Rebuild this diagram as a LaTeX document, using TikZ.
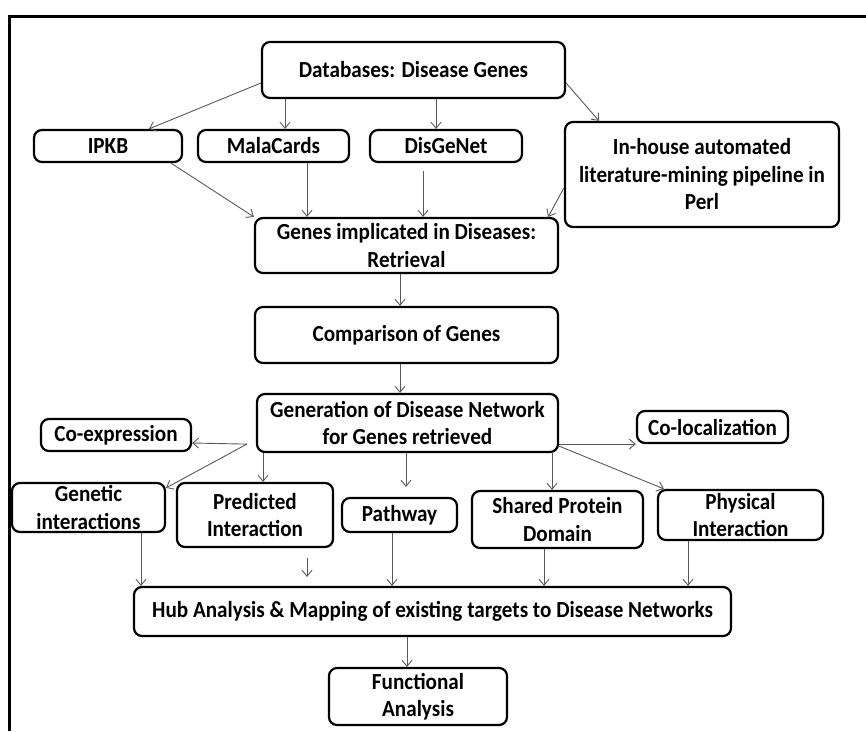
\documentclass[tikz,border=0pt]{standalone}
\usepackage{fontspec}
\setmainfont{Carlito}[FakeStretch=0.92]
\usepackage{tikz}
\usetikzlibrary{arrows.meta}
\usetikzlibrary{calc}
\usetikzlibrary{positioning}

\begin{document}
\begin{tikzpicture}[x=1pt, y=-1pt,
    box/.style={draw, line width=2.2pt, rounded corners=8pt, inner sep=0pt, align=center,
      font=\fontsize{23}{27.5}\selectfont\bfseries},
    arr/.style={draw=black!65, line width=0.9pt, -{Straight Barb[length=6pt, width=10pt]}}]

    \useasboundingbox (0, 0) rectangle (866, 731);
    \draw [line width=3pt] (9, 731) -- (9, 16) -- (866, 16);

    \node [box, minimum width=303, minimum height=56] (db) at (413.5, 70) {Databases: Disease Genes};
    \node [box, minimum width=148, minimum height=32] (ipkb) at (108, 146) {IPKB};
    \node [box, minimum width=151, minimum height=32] (mc) at (273.5, 146) {MalaCards};
    \node [box, minimum width=152, minimum height=32] (dgn) at (446, 146) {DisGeNet};
    \node [box, minimum width=274, minimum height=105] (inh) at (702, 174.5) {In-house automated\\literature-mining pipeline in\\Perl};
    \node [box, minimum width=303, minimum height=55] (gi) at (406.5, 245.5) {Genes implicated in Diseases:\\Retrieval};
    \node [box, minimum width=303, minimum height=56] (cmp) at (406.5, 335) {Comparison of Genes};
    \node [box, minimum width=301, minimum height=58] (gen) at (407.5, 423) {Generation of Disease Network\\for Genes retrieved};
    \node [box, minimum width=150, minimum height=32] (coex) at (116, 435) {Co-expression};
    \node [box, minimum width=151, minimum height=32] (coloc) at (712.5, 427) {Co-localization};
    \node [box, minimum width=153, minimum height=49] (genetic) at (88.5, 507.5) {Genetic\\interactions};
    \node [box, minimum width=156, minimum height=64] (pred) at (255, 515) {Predicted\\Interaction};
    \node [box, minimum width=115, minimum height=34] (path) at (399.5, 515) {Pathway};
    \node [box, minimum width=171, minimum height=57] (shared) at (557.5, 519.5) {Shared Protein\\Domain};
    \node [box, minimum width=165, minimum height=50] (phys) at (740.5, 515) {Physical\\Interaction};
    \node [box, minimum width=597, minimum height=49] (hub) at (432.5, 611.5) {Hub Analysis \& Mapping of existing targets to Disease Networks};
    \node [box, minimum width=178, minimum height=57] (func) at (418, 696.5) {Functional\\Analysis};

    \draw [arr] ($(db.west)+(0,13)$) -- ($(ipkb.north)+(41,0)$);
    \draw [arr] ([xshift=11.5pt]db.south -| mc.north) -- ([xshift=11.5pt]mc.north);
    \draw [arr] ([xshift=-10pt]db.south -| dgn.north) -- ([xshift=-10pt]dgn.north);
    \draw [arr] ($(db.east)+(0,13)$) -- ($(inh.north)+(-103,0)$);
    \draw [arr] ($(ipkb.south)+(63,0)$) -- (gi.north west);
    \draw [arr] ([xshift=33.5pt]mc.south) -- ([xshift=33.5pt]mc.south |- gi.north);
    \draw [arr, shorten <=8pt] ([xshift=-23pt]dgn.south) -- ([xshift=-23pt]dgn.south |- gi.north);
    \draw [arr] ($(inh.west)+(0,13.5)$) -- ($(gi.north east)+(-11,0)$);
    \draw [arr] ([xshift=-6.5pt]gi.south) -- ([xshift=-6.5pt]cmp.north);
    \draw [arr] ([xshift=-6.5pt]cmp.south) -- ([xshift=-7.5pt]gen.north);

    \coordinate (gsw) at ($(gen.south west)+(-9,-9)$);
    \draw [arr] (gsw) -- ($(coex.east)+(0,8)$);
    \draw [arr] (gsw) -- ($(genetic.north east)+(0,6)$);
    \draw [arr] ([xshift=8pt]gen.south -| pred.north) -- ([xshift=8pt]pred.north);
    \draw [arr, shorten >=10pt] ([xshift=6.5pt]gen.south -| path.north) -- ([xshift=6.5pt]path.north);
    \draw [arr] ([xshift=-5.5pt]gen.south -| shared.north) -- ([xshift=-5.5pt]shared.north);
    \draw [arr] ($(gen.south east)+(0,-9)$) -- (coloc.south west);
    \draw [arr] ($(gen.south east)+(0,-7)$) -- ($(phys.north west)+(7,0)$);

    \draw [arr] ([xshift=52.5pt]genetic.south) -- ([xshift=52.5pt]genetic.south |- hub.north);
    \draw [arr, shorten <=10pt, shorten >=9pt] ([xshift=52pt]pred.south) -- ([xshift=52pt]pred.south |- hub.north);
    \draw [arr] ([xshift=-7.5pt]path.south) -- ([xshift=-7.5pt]path.south |- hub.north);
    \draw [arr] ([xshift=-13.5pt]shared.south) -- ([xshift=-13.5pt]shared.south |- hub.north);
    \draw [arr] ([xshift=-52.5pt]phys.south) -- ([xshift=-52.5pt]phys.south |- hub.north);
    \draw [arr] ([xshift=-11pt]hub.south -| func.north) -- ([xshift=-11pt]func.north);

\end{tikzpicture}
\end{document}
